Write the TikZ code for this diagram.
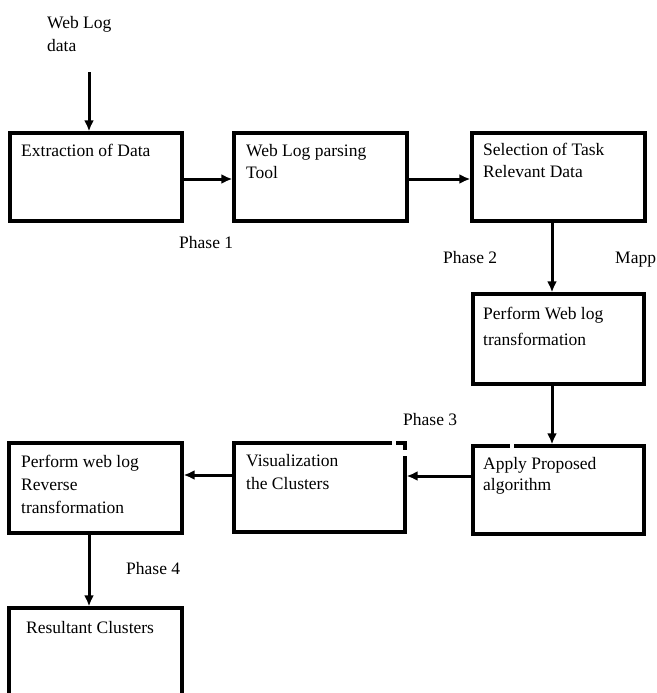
\documentclass[tikz,border=0pt]{standalone}
\usepackage{fontspec}
\setmainfont{Liberation Serif}
\usetikzlibrary{arrows.meta}
\begin{document}
\begin{tikzpicture}[x=1pt,y=-1pt,
  box/.style={draw, line width=3.3pt, rectangle, inner sep=0pt},
  txt/.style={anchor=north west, inner sep=0pt, align=left, font=\fontsize{17.5}{23}\selectfont},
  lbl/.style={anchor=base west, inner sep=0pt, font=\fontsize{17.5}{23}\selectfont},
  arr/.style={line width=3pt, -{Latex[length=11pt,width=10pt]}}]
\useasboundingbox (0,0) rectangle (656,693);
\clip (0,0) rectangle (656,693);
% boxes
\node[box, minimum width=172, minimum height=88] (b1) at (96,177) {};
\node[box, minimum width=173, minimum height=88] (b2) at (320.5,177) {};
\node[box, minimum width=173, minimum height=88] (b3) at (558.5,177) {};
\node[box, minimum width=171, minimum height=90] (b4) at (558.5,339) {};
\node[box, minimum width=171, minimum height=88] (b5) at (558.5,490) {};
\node[box, minimum width=171, minimum height=89] (b6) at (319.5,487.5) {};
\node[box, minimum width=173, minimum height=90] (b7) at (95.5,488) {};
\node[box, minimum width=173, minimum height=120] (b8) at (95.5,668) {};
% small gaps in edges
\fill[white] (509.5,440) rectangle (513.5,451);
\fill[white] (391.5,438) rectangle (396,449);
\fill[white] (400,449.5) rectangle (412,456);
% texts
\node[txt] (t0) at (47,12) {\strut Web Log\\data};
\node[txt] (t1) at (21,140) {\strut Extraction of Data};
\node[txt, font=\fontsize{17.5}{22}\selectfont] (t2) at (246,141) {\strut Web Log parsing\\Tool};
\node[txt, font=\fontsize{17.5}{22}\selectfont] (t3) at (483,140) {\strut Selection of Task\\Relevant Data};
\node[txt, font=\fontsize{17.5}{26}\selectfont] (t4) at (483,301) {\strut Perform Web log\\transformation};
\node[txt, font=\fontsize{17.5}{21}\selectfont] (t5) at (483,455) {\strut Apply Proposed\\algorithm};
\node[txt] (t6) at (246,450) {\strut Visualization\\the Clusters};
\node[txt] (t7) at (21,451) {\strut Perform web log\\Reverse\\transformation};
\node[txt] (t8) at (26,617) {\strut Resultant Clusters};
% labels
\node[lbl] (p1) at (179,248) {Phase 1};
\node[lbl] (p2) at (443,263) {Phase 2};
\node[lbl] (mp) at (615,263) {Mapp};
\node[lbl] (p3) at (403,425) {Phase 3};
\node[lbl] (p4) at (126,574) {Phase 4};
% connectors
\coordinate (in) at (89,72);
\draw[arr] (in) -- (in |- b1.north);
\draw[arr] ([yshift=-2pt]b1.east) -- ([yshift=-2pt]b1.east -| b2.west);
\draw[arr] ([yshift=-2pt]b2.east) -- ([yshift=-2pt]b2.east -| b3.west);
\draw[arr] ([xshift=-6.5pt]b3.south) -- ([xshift=-6.5pt]b3.south |- b4.north);
\draw[arr] ([xshift=-6.5pt]b4.south) -- ([xshift=-6.5pt]b4.south |- b5.north);
\draw[arr] ([yshift=14pt]b5.west) -- ([yshift=14pt]b5.west -| b6.east);
\draw[arr] ([yshift=12.5pt]b6.west) -- ([yshift=12.5pt]b6.west -| b7.east);
\draw[arr] ([xshift=-6.5pt]b7.south) -- ([xshift=-6.5pt]b7.south |- b8.north);
\end{tikzpicture}
\end{document}
